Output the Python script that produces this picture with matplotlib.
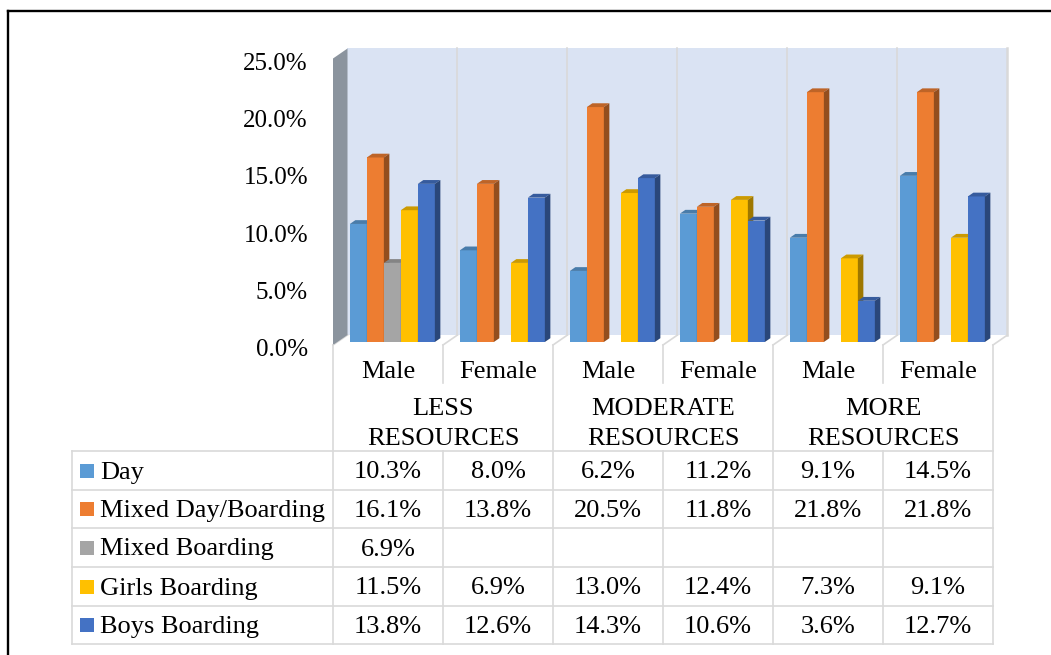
import numpy as np
import matplotlib.pyplot as plt
from matplotlib.patches import Polygon

plt.rcParams['font.family'] = ['Liberation Serif', 'DejaVu Serif']
AXIS_FONT = 18
TABLE_FONT = 19

# chart data (percent of schools)
genders = ["Male", "Female", "Male", "Female", "Male", "Female"]
groups = ["LESS\nRESOURCES", "MODERATE\nRESOURCES", "MORE\nRESOURCES"]
series = ["Day", "Mixed Day/Boarding", "Mixed Boarding", "Girls Boarding", "Boys Boarding"]
colors = ["#5B9BD5", "#ED7D31", "#A5A5A5", "#FFC000", "#4472C4"]

day = [10.3, 8.0, 6.2, 11.2, 9.1, 14.5]
mixed_day_boarding = [16.1, 13.8, 20.5, 11.8, 21.8, 21.8]
mixed_boarding = [6.9, np.nan, np.nan, np.nan, np.nan, np.nan]
girls_boarding = [11.5, 6.9, 13.0, 12.4, 7.3, 9.1]
boys_boarding = [13.8, 12.6, 14.3, 10.6, 3.6, 12.7]
values = [day, mixed_day_boarding, mixed_boarding, girls_boarding, boys_boarding]

y_ticks = [0, 5, 10, 15, 20, 25]

# page geometry in pixels
W, H = 1051, 655
X0, CAT_PX = 333, 110        # left edge of the category axis, width of a category
Y0, PCT_PX = 345, 11.46      # baseline of the front plane, pixels per percent
DX, DY = 14.5 / CAT_PX, 10 / PCT_PX   # depth of the 3-D box in data units
BAR_FRONT, BAR_DEPTH = 0.3, 0.38
BAR_W = 17 / CAT_PX
n_cat = len(genders)


def shade(c, f):
    r, g, b = plt.matplotlib.colors.to_rgb(c)
    return (r * f, g * f, b * f)


fig = plt.figure(figsize=(W / 100, H / 100), dpi=100)
ax = fig.add_axes([0, 0, 1, 1])
ax.set_xlim(-X0 / CAT_PX, (W - X0) / CAT_PX)
ax.set_ylim(-(H - Y0) / PCT_PX, Y0 / PCT_PX)
ax.axis("off")

top = y_ticks[-1]

# walls and floor
ax.add_patch(Polygon([(DX, DY), (n_cat + DX, DY), (n_cat + DX, top + DY), (DX, top + DY)],
                     closed=True, facecolor="#DAE3F3", edgecolor="none", zorder=1))
ax.add_patch(Polygon([(0, 0), (DX, DY), (DX, top + DY), (0, top)],
                     closed=True, facecolor="#8B949E", edgecolor="none", zorder=2))
ax.add_patch(Polygon([(0, 0), (n_cat, 0), (n_cat + DX, DY), (DX, DY)],
                     closed=True, facecolor="white", edgecolor="none", zorder=1.5))
for k in range(1, n_cat + 1):
    ax.plot([k + DX, k + DX], [DY, top + DY], color="#D9D9D9",
            lw=1.2 if k < n_cat else 1.8, zorder=1.6)
for k in range(n_cat + 1):
    ax.plot([k, k + DX], [0, DY], color="#D9D9D9", lw=1.2, zorder=1.6)

# 3-D columns
fx, fy = BAR_FRONT * DX, BAR_FRONT * DY
bx, by = BAR_DEPTH * DX, BAR_DEPTH * DY
pad = (1 - len(series) * BAR_W) / 2
for i in range(n_cat):
    for s, (vals, col) in enumerate(zip(values, colors)):
        v = vals[i]
        if np.isnan(v):
            continue
        x0 = i + pad + s * BAR_W + fx
        x1 = x0 + BAR_W
        ax.bar(x0, v, width=BAR_W, bottom=fy, align="edge", color=col,
               edgecolor="none", zorder=3)
        ax.add_patch(Polygon([(x0, v + fy), (x1, v + fy), (x1 + bx, v + fy + by),
                              (x0 + bx, v + fy + by)], closed=True,
                             facecolor=shade(col, 0.8), edgecolor="none", zorder=3))
        ax.add_patch(Polygon([(x1, fy), (x1 + bx, fy + by), (x1 + bx, v + fy + by),
                              (x1, v + fy)], closed=True,
                             facecolor=shade(col, 0.62), edgecolor="none", zorder=3))

# value axis labels
for t in y_ticks:
    ax.text(-25 / CAT_PX, t - 0.45, f"{t:.1f}%", ha="right", va="center",
            fontsize=AXIS_FONT, color="black")

# category labels and data table drawn in pixel space
tb = fig.add_axes([0, 0, 1, 1])
tb.set_xlim(0, W)
tb.set_ylim(H, 0)
tb.axis("off")
tb.patch.set_alpha(0)

grid = dict(color="#D9D9D9", lw=1.2)
col_x = [X0 + CAT_PX * k for k in range(n_cat + 1)]
row_y = [451, 490, 528, 567, 606, 644]
label_left = 72

for k, x in enumerate(col_x):
    if k % 2:
        tb.plot([x, x], [Y0, 383], **grid)
        tb.plot([x, x], [row_y[0], row_y[-1]], **grid)
    else:
        tb.plot([x, x], [Y0, row_y[-1]], **grid)
tb.plot([label_left, label_left], [row_y[0], row_y[-1]], **grid)
for y in row_y:
    tb.plot([label_left, col_x[-1]], [y, y], **grid)

for i, g in enumerate(genders):
    tb.text(X0 + CAT_PX * (i + 0.5), 372, g, ha="center", va="center", fontsize=TABLE_FONT)
for j, g in enumerate(groups):
    for n, line in enumerate(g.split("\n")):
        tb.text(X0 + CAT_PX * (2 * j + 1), 409 + 30 * n, line, ha="center", va="center",
                fontsize=TABLE_FONT)

for r, (name, vals, col) in enumerate(zip(series, values, colors)):
    yc = (row_y[r] + row_y[r + 1]) / 2
    tb.add_patch(plt.Rectangle((80, yc - 7), 14, 14, facecolor=col, edgecolor="none"))
    tb.text(100, yc + 2, name, ha="left", va="center", fontsize=TABLE_FONT)
    for i, v in enumerate(vals):
        if np.isnan(v):
            continue
        tb.text(X0 + CAT_PX * (i + 0.5), yc + 2, f"{v:.1f}%", ha="center", va="center",
                fontsize=TABLE_FONT)

# outer frame (top and left edges)
tb.plot([8, W], [11, 11], color="black", lw=1.7)
tb.plot([8, 8], [11, H], color="black", lw=1.7)

fig.savefig("out.png", dpi=100)
